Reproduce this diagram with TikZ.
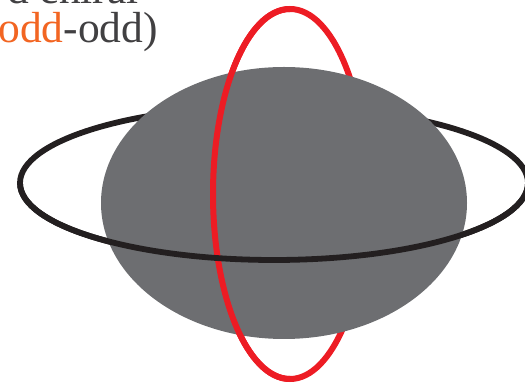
\documentclass[tikz,border=0pt]{standalone}
\usepackage{fontspec}
\setmainfont{Liberation Serif}
\definecolor{ringred}{HTML}{ED1C24}
\definecolor{ringblack}{HTML}{231F20}
\definecolor{spheregray}{HTML}{6D6E71}
\definecolor{txtgray}{HTML}{414042}
\definecolor{txtorange}{HTML}{F26522}
\tikzset{
  blackring/.style={draw=ringblack, line width=5.8pt},
  redring/.style={draw=ringred, line width=6pt},
  sphere/.style={fill=spheregray},
  label/.style={inner sep=0pt, text=txtgray, font=\fontsize{43.5}{43.5}\selectfont}
}
\begin{document}
\begin{tikzpicture}[x=1pt,y=1pt]
\useasboundingbox (0,0) rectangle (525,385);
\clip (0,0) rectangle (525,385);
% back parts
\draw[blackring] (274,202) ellipse [x radius=254, y radius=77];
\draw[redring] (290,191) ellipse [x radius=77, y radius=185];
% sphere
\fill[sphere] (284,182) ellipse [x radius=183, y radius=136];
% front parts
\draw[redring] (290,376) arc [start angle=90, end angle=270, x radius=77, y radius=185];
\draw[blackring] (20,202) arc [start angle=180, end angle=360, x radius=254, y radius=77];
% text
\node[label, anchor=base east] (l1) at (139,381) {d chiral};
\node[label, anchor=base east] (l2) at (158,342) {\textcolor{txtorange}{odd}-odd)};
\end{tikzpicture}
\end{document}
